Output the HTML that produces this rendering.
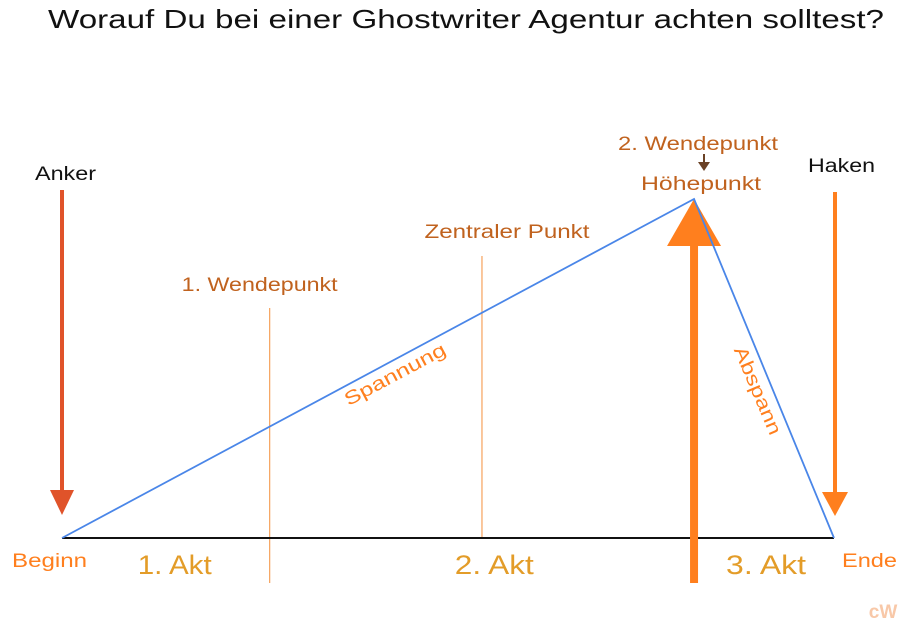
<!DOCTYPE html>
<html><head><meta charset="utf-8"><style>
body{margin:0;background:#fff;}
svg{display:block;font-family:"Liberation Sans",sans-serif;}
</style></head><body>
<svg id="c" width="899" height="619" viewBox="0 0 899 619">
<text x="48" y="28" font-size="26" textLength="836" lengthAdjust="spacingAndGlyphs" fill="#111">Worauf Du bei einer Ghostwriter Agentur achten solltest?</text>
<g id="g"></g>
</svg>
<script>
const arcPhases = ["Beginn", "Höhepunkt", "Ende"];
const arcPosition = [0, 0.8187, 1];
const arcTension = [0, 1, 0];
const acts = ["1. Akt", "2. Akt", "3. Akt"];
const actCenter = [0.146, 0.560, 0.912];
const markers = ["1. Wendepunkt", "Zentraler Punkt"];
const markerPosition = [0.269, 0.544];

const X0 = 62, X1 = 834, Y0 = 538, Y1 = 199;
const xs = v => X0 + v * (X1 - X0);
const ys = v => Y0 - v * (Y0 - Y1);
const NS = "http://www.w3.org/2000/svg";
const g = document.getElementById("g");
function mk(tag, attrs, text) {
  const e = document.createElementNS(NS, tag);
  for (const k in attrs) e.setAttribute(k, attrs[k]);
  if (text !== undefined) e.textContent = text;
  g.appendChild(e);
  return e;
}
const LA = "spacingAndGlyphs";
let e;
const markerTop = [308, 256];
const markerBottom = [583, 538];
const markerLabelY = [291, 238];
const markerLabelDx = [-10, 25];
const markerLabelW = [156, 165];
markers.forEach((m, i) => {
  e = mk("line", {x1: xs(markerPosition[i]), x2: xs(markerPosition[i]), y1: markerTop[i], y2: markerBottom[i], stroke: "#f6a25c", "stroke-width": 1.2});
  
  
  e = mk("text", {x: xs(markerPosition[i]) + markerLabelDx[i] - markerLabelW[i] / 2, y: markerLabelY[i], "font-size": 19, textLength: markerLabelW[i], lengthAdjust: LA, fill: "#c0621e"}, m);
  
  
});
e = mk("line", {x1: X0, x2: X1, y1: Y0, y2: Y0, stroke: "#111", "stroke-width": 2});


const px = xs(arcPosition[1]), py = ys(arcTension[1]);
e = mk("line", {x1: px, x2: px, y1: 583, y2: py + 40, stroke: "#ff7f1e", "stroke-width": 8});


e = mk("polygon", {points: `${px},${py} ${px-27},${py+47} ${px+27},${py+47}`, fill: "#ff7f1e"});


e = mk("polyline", {points: arcPosition.map((p, i) => xs(p) + "," + ys(arcTension[i])).join(" "), fill: "none", stroke: "#4a86e8", "stroke-width": 1.8});


e = mk("text", {x: 12, y: 567, "font-size": 19, textLength: 75, lengthAdjust: LA, fill: "#ff7f1e"}, arcPhases[0]);


e = mk("text", {x: 842, y: 567, "font-size": 19, textLength: 55, lengthAdjust: LA, fill: "#ff7f1e"}, arcPhases[2]);


e = mk("text", {x: 641, y: 190, "font-size": 19, textLength: 120, lengthAdjust: LA, fill: "#c0621e"}, arcPhases[1]);


e = mk("text", {x: 618, y: 150, "font-size": 19, textLength: 160, lengthAdjust: LA, fill: "#c0621e"}, "2. Wendepunkt");


e = mk("line", {x1: 704, x2: 704, y1: 154, y2: 163, stroke: "#6b4226", "stroke-width": 2});


e = mk("polygon", {points: "698,162 710,162 704,171", fill: "#6b4226"});


const actW = [74, 79, 80];
acts.forEach((a, i) => {
  e = mk("text", {x: xs(actCenter[i]) - actW[i] / 2, y: 574, "font-size": 27, textLength: actW[i], lengthAdjust: LA, fill: "#e39c28"}, a);
  
  
});
e = mk("text", {x: 35, y: 180, "font-size": 19, textLength: 61, lengthAdjust: LA, fill: "#111"}, "Anker");


e = mk("line", {x1: 62, x2: 62, y1: 190, y2: 492, stroke: "#e0532a", "stroke-width": 4});


e = mk("polygon", {points: "50,490 74,490 62,515", fill: "#e0532a"});


e = mk("text", {x: 808, y: 172, "font-size": 19, textLength: 67, lengthAdjust: LA, fill: "#111"}, "Haken");


e = mk("line", {x1: 835, x2: 835, y1: 192, y2: 494, stroke: "#ff7f1e", "stroke-width": 4});


e = mk("polygon", {points: "822,492 848,492 835,516", fill: "#ff7f1e"});


e = mk("text", {x: -56, y: 0, "font-size": 19, textLength: 112, lengthAdjust: LA, fill: "#ff7f1e", transform: "translate(398,380) rotate(-28)"}, "Spannung");


e = mk("text", {x: -47, y: 0, "font-size": 19, textLength: 94, lengthAdjust: LA, fill: "#ff7f1e", transform: "translate(752,393) rotate(67)"}, "Abspann");


e = mk("text", {x: 883, y: 618, "font-size": 19, "font-weight": "bold", "text-anchor": "middle", fill: "#f8c8a8"}, "cW");


</script>
</body></html>
